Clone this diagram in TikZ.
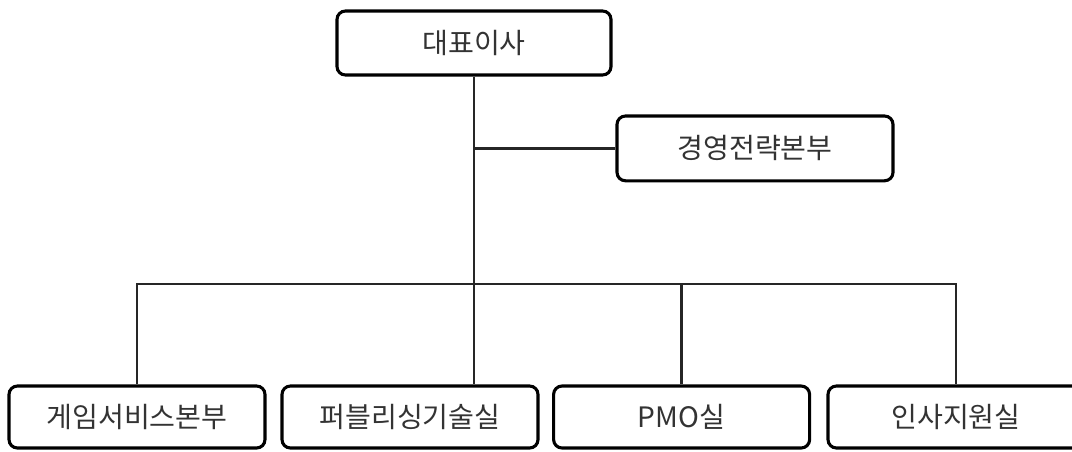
\documentclass[tikz,border=0pt]{standalone}
\usepackage{fontspec}
\newfontfamily\kr{Noto Sans CJK KR}
\usetikzlibrary{positioning}

\begin{document}
\begin{tikzpicture}[
  font=\kr\fontsize{20}{22}\selectfont,
  unit/.style = {draw, line width=2.2pt, rounded corners=6pt, text=black!80,
                 minimum width=6.4cm, minimum height=1.55cm, inner sep=0pt},
  link/.style = {line width=1.8pt, black!85}
  ]
  \useasboundingbox (0,0) rectangle (26.8,-11.275);

  \node[unit, minimum width=6.85cm, minimum height=1.6cm] (ceo) at (11.85,-1.075) {대표이사};
  \node[unit, minimum width=6.9cm, minimum height=1.62cm] (strategy) at (18.875,-3.71) {경영전략본부};

  \node[unit] (game) at (3.425,-10.425) {게임서비스본부};
  \node[unit] (pub) at (10.25,-10.425) {퍼블리싱기술실};
  \node[unit] (pmo) at (17.04,-10.425) {PMO실};
  \node[unit] (hr) at (23.9,-10.425) {인사지원실};

  \coordinate (bus) at (0,-7.1);

  \draw[link] (ceo.south) -- (ceo.south |- pub.north);
  \draw[link] (ceo.south |- strategy.west) -- (strategy.west);
  \draw[link] (game.north) -- (game.north |- bus) -- (hr.north |- bus) -- (hr.north);
  \draw[link] (pmo.north) -- (pmo.north |- bus);
\end{tikzpicture}
\end{document}
